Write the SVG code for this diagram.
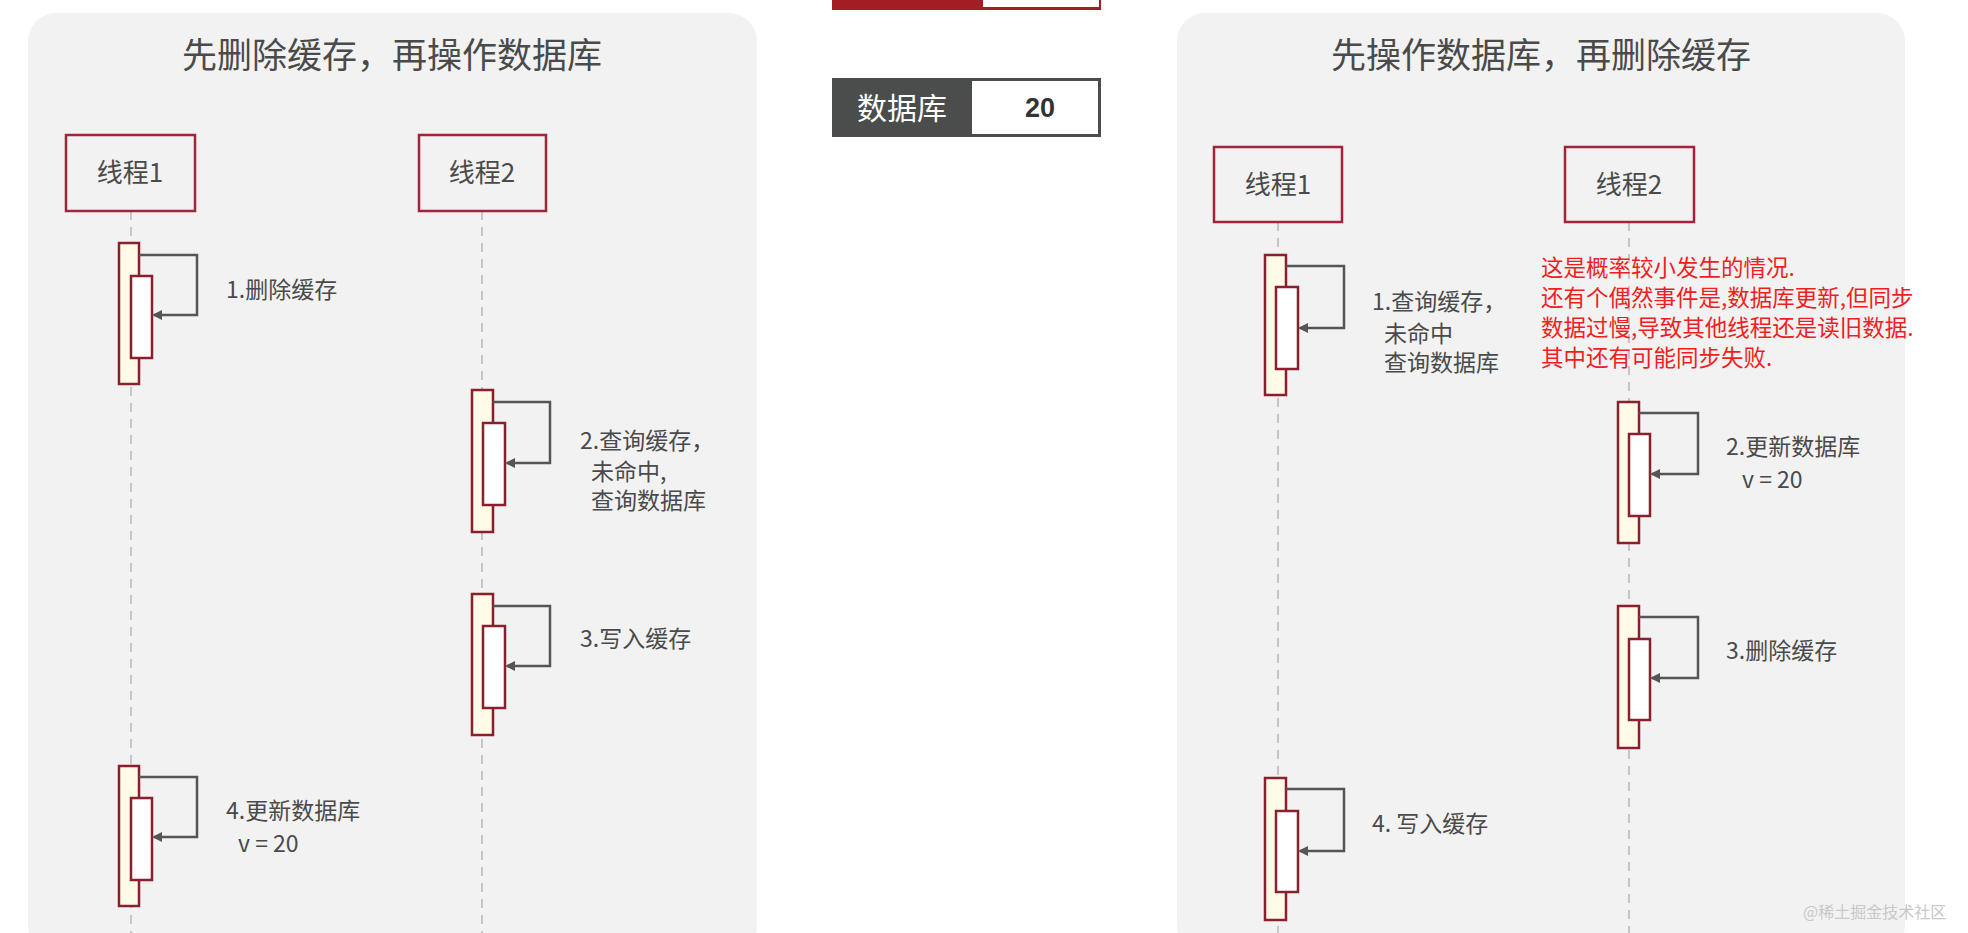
<svg xmlns="http://www.w3.org/2000/svg" width="1968" height="933" viewBox="0 0 1968 933">
<defs>
<style>
.t{font-family:"Noto Sans CJK SC","Liberation Sans",sans-serif;fill:#4a4a4a}
.title{font-size:35px}
.lbl{font-size:23px}
.box{fill:#f2f2f2;stroke:#a3243a;stroke-width:2.5}
.life{stroke:#b8b8b8;stroke-width:1.5;stroke-dasharray:9 7}
.act{fill:#fffbe6;stroke:#8b1f2d;stroke-width:2.5}
.inn{fill:#fff;stroke:#8b1f2d;stroke-width:2.5}
.arr{fill:none;stroke:#555;stroke-width:2.5;marker-end:url(#ah)}
.red{font-family:"Noto Sans CJK SC","Liberation Sans",sans-serif;font-size:22.5px;fill:#f01e1e}
</style>
<marker id="ah" markerWidth="10" markerHeight="10" refX="8" refY="5" orient="auto" markerUnits="userSpaceOnUse"><path d="M0,0 L10,5 L0,10 Z" fill="#555"/></marker>
</defs>
<rect width="1968" height="933" fill="#fff"/>
<rect x="28" y="13" width="729" height="940" rx="28" fill="#f2f2f2"/>
<rect x="1177" y="13" width="728" height="940" rx="28" fill="#f2f2f2"/>
<text class="t title" x="392" y="68" text-anchor="middle">先删除缓存，再操作数据库</text>
<text class="t title" x="1541" y="68" text-anchor="middle">先操作数据库，再删除缓存</text>
<g id="topbar"><rect x="832" y="0" width="269" height="10" fill="#a31d26"/><rect x="983" y="0" width="116" height="7" fill="#fff"/></g>
<g id="db"><rect x="832" y="78" width="269" height="59" fill="#4a4d4c"/><rect x="972" y="81" width="126" height="53" fill="#fff"/>
<text x="902" y="119" text-anchor="middle" font-family="Noto Sans CJK SC,sans-serif" font-size="30" fill="#fff">数据库</text>
<text x="1040" y="117" text-anchor="middle" font-family="Liberation Sans,sans-serif" font-size="27" font-weight="bold" fill="#333">20</text></g>
<g id="lifelines">
<line class="life" x1="131" y1="211" x2="131" y2="933"/><line class="life" x1="482" y1="211" x2="482" y2="933"/>
<line class="life" x1="1278" y1="222" x2="1278" y2="933"/><line class="life" x1="1629" y1="222" x2="1629" y2="933"/>
</g>
<g id="L-t1"><rect class="box" x="66" y="135" width="129" height="76"/><text class="t" font-size="26" x="130" y="182" text-anchor="middle">线程1</text></g>
<g id="L-t2"><rect class="box" x="419" y="135" width="127" height="76"/><text class="t" font-size="26" x="482" y="182" text-anchor="middle">线程2</text></g>
<g id="R-t1"><rect class="box" x="1214" y="147" width="128" height="75"/><text class="t" font-size="26" x="1278" y="194" text-anchor="middle">线程1</text></g>
<g id="R-t2"><rect class="box" x="1565" y="147" width="129" height="75"/><text class="t" font-size="26" x="1629" y="194" text-anchor="middle">线程2</text></g>
<g id="activations">
<rect class="act" x="119" y="243" width="20" height="141"/><rect class="inn" x="131" y="276" width="21" height="82"/>
<rect class="act" x="472" y="390" width="21" height="142"/><rect class="inn" x="483" y="423" width="22" height="82"/>
<rect class="act" x="472" y="594" width="21" height="141"/><rect class="inn" x="483" y="626" width="22" height="82"/>
<rect class="act" x="119" y="766" width="20" height="140"/><rect class="inn" x="131" y="798" width="21" height="82"/>
<rect class="act" x="1265" y="255" width="21" height="140"/><rect class="inn" x="1276" y="287" width="22" height="82"/>
<rect class="act" x="1618" y="402" width="21" height="141"/><rect class="inn" x="1629" y="434" width="21" height="82"/>
<rect class="act" x="1618" y="606" width="21" height="142"/><rect class="inn" x="1629" y="639" width="21" height="81"/>
<rect class="act" x="1265" y="778" width="21" height="142"/><rect class="inn" x="1276" y="811" width="22" height="81"/>
</g>
<g id="connectors">
<path class="arr" d="M139,255 H197 V315 H154"/>
<path class="arr" d="M493,402 H550 V463 H507"/>
<path class="arr" d="M493,606 H550 V666 H507"/>
<path class="arr" d="M139,777 H197 V837 H154"/>
<path class="arr" d="M1286,266 H1344 V328 H1300"/>
<path class="arr" d="M1639,413 H1698 V474 H1652"/>
<path class="arr" d="M1639,617 H1698 V678 H1652"/>
<path class="arr" d="M1286,789 H1344 V851 H1300"/>
</g>
<g id="labels">
<text class="t lbl" x="226" y="298">1.删除缓存</text>
<text class="t lbl" x="580" y="449">2.查询缓存，</text>
<text class="t lbl" x="591" y="480">未命中,</text>
<text class="t lbl" x="591" y="509">查询数据库</text>
<text class="t lbl" x="580" y="647">3.写入缓存</text>
<text class="t lbl" x="226" y="819">4.更新数据库</text>
<text class="t lbl" x="238" y="852">v = 20</text>
<text class="t lbl" x="1372" y="310">1.查询缓存，</text>
<text class="t lbl" x="1384" y="342">未命中</text>
<text class="t lbl" x="1384" y="371">查询数据库</text>
<text class="t lbl" x="1726" y="455">2.更新数据库</text>
<text class="t lbl" x="1742" y="488">v = 20</text>
<text class="t lbl" x="1726" y="659">3.删除缓存</text>
<text class="t lbl" x="1372" y="832">4. 写入缓存</text>
</g>
<g id="note">
<text class="red" x="1541" y="276">这是概率较小发生的情况.</text>
<text class="red" x="1541" y="306">还有个偶然事件是,数据库更新,但同步</text>
<text class="red" x="1541" y="336">数据过慢,导致其他线程还是读旧数据.</text>
<text class="red" x="1541" y="366">其中还有可能同步失败.</text>
</g>
<text x="1803" y="918" font-family="Noto Sans CJK SC,sans-serif" font-size="16" fill="#c8c8c8">@稀土掘金技术社区</text>
</svg>
